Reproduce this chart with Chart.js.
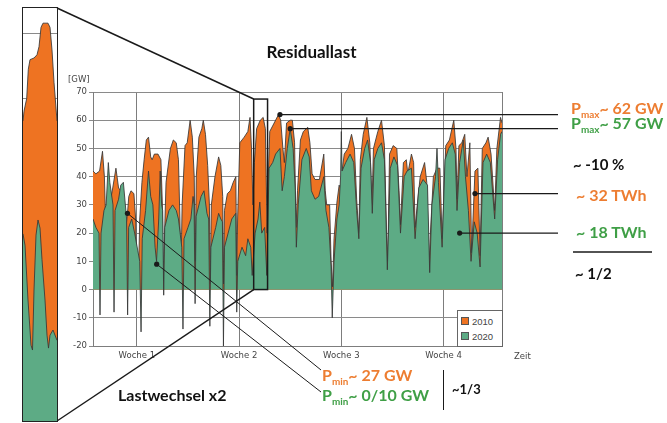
<!DOCTYPE html>
<html>
<head>
<meta charset="utf-8">
<title>Residuallast</title>
<script src="https://cdn.jsdelivr.net/npm/chart.js@4.4.1/dist/chart.umd.min.js"></script>
<style>
  html, body { margin: 0; padding: 0; background: #fff; }
  #page { position: relative; width: 667px; height: 423px; overflow: hidden; }
  #main { position: absolute; left: 0; top: 0; }
  #zoom { position: absolute; left: 23px; top: 8px; }
  #zoomFrame { position: absolute; left: 22px; top: 7px; width: 36px; height: 415px; box-sizing: border-box; border: 1.5px solid #222; }
  .note { position: absolute; white-space: nowrap; line-height: 1; font-family: Lato, "Open Sans", sans-serif; font-weight: bold; }
  .note sub { font-size: 62%; vertical-align: baseline; position: relative; top: 0.35em; }
  #legend { position: absolute; left: 457px; top: 310px; width: 46px; height: 37px; box-sizing: border-box;
            border: 1px solid #666; background: #fff; font: 9.5px "Liberation Sans", sans-serif; color: #444; }
  #legend div { position: absolute; left: 3px; white-space: nowrap; }
  #legend span { display: inline-block; width: 6px; height: 6px; border: 1px solid #555; margin-right: 3px; vertical-align: 0; }
</style>
</head>
<body>
<div id="page">
  <canvas id="main" width="667" height="423"></canvas>
  <canvas id="zoom" width="34" height="413"></canvas>
  <div id="zoomFrame"></div>
  <div id="legend"></div>
</div>

<script>
  // Residuallast 2010 (orange), Tag / GW
  const days2010 = [0,0.2,0.45,0.65,0.78,0.88,0.95,1.05,1.15,1.35,
    1.57,1.75,1.9,2.03,2.1,2.17,2.36,2.45,2.6,2.8,
    2.92,3.0,3.1,3.2,3.35,3.5,3.65,3.8,3.95,4.05,
    4.2,4.45,4.65,4.75,4.82,4.9,5.0,5.1,5.3,5.5,
    5.7,5.85,5.95,6.02,6.1,6.3,6.45,6.65,6.8,6.93,
    7.0,7.07,7.25,7.45,7.55,7.7,7.85,7.97,8.03,8.1,
    8.35,8.6,8.75,8.88,8.94,9.0,9.2,9.4,9.6,9.78,
    9.84,9.9,10.05,10.35,10.6,10.75,10.85,10.95,11.05,11.2,
    11.45,11.65,11.8,11.92,12,12.1,12.4,12.7,12.85,13,
    13.1,13.25,13.5,13.65,13.8,13.9,14,14.2,14.4,14.7,
    14.85,15,15.2,15.5,15.8,15.9,16,16.2,16.3,16.4,
    16.5,16.7,16.85,16.95,17.05,17.2,17.45,17.7,17.9,18.05,
    18.2,18.3,18.5,18.75,18.95,19.1,19.2,19.5,19.75,19.95,
    20.1,20.18,20.3,20.55,20.8,20.95,21.05,21.25,21.45,21.55,
    21.8,21.95,22.05,22.2,22.4,22.7,22.85,23,23.1,23.3,
    23.55,23.75,23.9,24,24.15,24.4,24.7,24.85,24.92,25.05,
    25.25,25.45,25.6,25.8,25.92,26.15,26.35,26.5,26.65,26.9,
    27.05,27.25,27.5,27.65,27.9,28];
  const gw2010 = [42,41,42,49,40,22,8,20,30,36,
    43,36,35,22,5,18,27,33,35,34,
    25,3,2,25,38,46,53,54,47,46,
    48,48,46,30,3,20,38,42,50,53,
    52,46,25,5,30,51,52,60,54,40,
    10,40,54,57,60,55,44,30,2,30,
    40,47,44,33,2,28,34,35,38,40,
    5,25,52,54,56,61,50,30,45,57,
    60,61,57,20,40,56,59,62,60,50,
    45,59,60,60,52,22,35,53,56,57.5,
    52,41,39,39,48,35,30,30,10,1,
    18,31,37,36,42,48,50,55,50,32,
    20,46,55,61,52,30,50,56,60,51,
    20,10,48,51,50,35,23,45,46,41,
    48,45,22,30,40,45,38,8,20,40,
    43,43,18,30,51,53,60,50,32,51,
    52,55,40,52,13,42,43,12,50,52,
    54,48,28,50,61,59];

  // Residuallast 2020 (green)
  const days2020 = [0,0.2,0.41,0.48,0.55,0.75,0.9,1.05,1.15,1.37,
    1.44,1.51,1.75,1.9,2.08,2.3,2.37,2.44,2.65,2.85,
    3.2,3.29,3.37,3.6,3.8,3.95,4.1,4.25,4.35,4.5,
    4.6,4.7,4.77,4.84,4.91,5.2,5.45,5.7,5.85,6.08,
    6.16,6.23,6.5,6.7,6.85,6.92,6.99,7.06,7.4,7.6,
    7.8,7.92,8.0,8.07,8.4,8.6,8.75,8.86,8.93,9.0,
    9.25,9.5,9.77,9.84,9.91,10.2,10.45,10.6,10.8,10.9,
    11.1,11.3,11.42,11.55,11.75,11.9,12.05,12.3,12.5,12.8,
    12.95,13.1,13.3,13.5,13.7,13.85,13.92,14.05,14.3,14.6,
    14.8,14.95,15.2,15.45,15.8,15.95,16.15,16.3,16.38,16.5,
    16.7,16.85,16.95,17,17.05,17.3,17.6,17.85,18.05,18.2,
    18.35,18.6,18.8,19,19.12,19.25,19.5,19.75,19.95,20.15,
    20.35,20.6,20.85,21.05,21.3,21.5,21.8,22.05,22.3,22.6,
    22.9,23.05,23.2,23.45,23.55,23.65,23.9,24.1,24.35,24.6,
    24.8,24.92,25.1,25.35,25.5,25.7,25.88,26.1,26.3,26.5,
    26.7,26.95,27.2,27.5,27.7,27.9,28];
  const gw2020 = [25,22,20,-9,20,28,30,45,38,30,
    -8,28,32,37,38,25,-9,22,25,20,
    10,-15,18,28,42,33,30,15,10,25,
    42,30,28,-2,22,28,30,28,25,15,
    -14,18,22,25,33,30,-5,26,33,35,
    27,25,-13,15,22,27,25,24,-20,15,
    20,25,27,-8,10,15,12,18,15,5,
    20,25,31,20,22,5,43,45,48,50,
    35,40,50,57,50,35,15,30,46,50,
    47,35,32,33,40,28,22,8,-10,10,
    25,30,40,56,42,45,48,45,28,18,
    43,50,53,45,27,46,50,52,46,7,
    43,47,44,20,40,42,43,18,36,39,
    37,6,30,40,50,38,15,46,50,52,
    48,28,45,53,40,28,10,24,20,8,
    45,48,45,25,46,55,56];

  // Ausschnitt (links, gestreckt): Position im Ausschnitt / GW
  const zoomPos2010 = [0,1,3.7,5.3,7,11,14,16,18,20,25,27,29,31,34];
  const zoomGw2010  = [33,36,40,49,52,52.5,53.5,56,62,63.3,63.3,62,55,45,33];
  const zoomPos2020 = [0,2,5,8,9.5,11,13,15,17,19,22,24,25.5,27,30,34];
  const zoomGw2020  = [-2,-5.5,-22.5,-36.5,-38,-19.4,-2.4,2.3,-0.2,-10,-22.5,-33.4,-37.4,-33.4,-31.8,-35];

  const seriesNames = ['2010', '2020'];
  const weekTicks  = [3, 10, 17, 24, 28];
  const weekLabels = ['Woche 1', 'Woche 2', 'Woche 3', 'Woche 4', ''];

  // Markierungen (Tag, GW)
  const pmax2010 = [12.8, 62];
  const pmax2020 = [13.5, 57];
  const energy2010 = [26.15, 34];
  const energy2020 = [25.1, 20];
  const pmin2010 = [2.36, 27];
  const pmin2020 = [4.36, 9];
  const zoomDays = [11.0, 11.95];
  const zoomTop = 67.5;

  const ORANGE = '#EE7322';
  const GREEN = '#5DAB85';
  const EDGE = 'rgba(55,55,55,0.85)';
  const TXT_OR = '#ED7D31';
  const TXT_GR = '#3F9F46';

  Chart.defaults.font.family = '"DejaVu Sans", sans-serif';
  Chart.defaults.font.size = 8.5;
  Chart.defaults.color = '#444';

  function points(xs, ys) { return xs.map((x, i) => ({ x: x, y: ys[i] })); }

  function line(ctx, x0, y0, x1, y1) {
    ctx.beginPath(); ctx.moveTo(x0, y0); ctx.lineTo(x1, y1); ctx.stroke();
  }
  function dot(ctx, x, y) {
    ctx.beginPath(); ctx.arc(x, y, 2.6, 0, Math.PI * 2); ctx.fill();
  }

  const overlay = {
    id: 'overlay',
    afterDraw(chart) {
      const ctx = chart.ctx;
      const xs = chart.scales.x, ys = chart.scales.y;
      const px = (p) => [xs.getPixelForValue(p[0]), ys.getPixelForValue(p[1])];
      ctx.save();
      ctx.strokeStyle = '#1a1a1a';
      ctx.fillStyle = '#1a1a1a';

      // Ausschnitt-Rahmen + Verbindungslinien zum Zoom links
      const bx0 = xs.getPixelForValue(zoomDays[0]);
      const bx1 = xs.getPixelForValue(zoomDays[1]);
      const by0 = ys.getPixelForValue(zoomTop);
      const by1 = ys.getPixelForValue(0);
      ctx.lineWidth = 1.5;
      ctx.strokeRect(bx0, by0, bx1 - bx0, by1 - by0);
      line(ctx, 57, 8, bx0, by0);
      line(ctx, 57, 421, bx0, by1);

      // Pfeile nach rechts
      ctx.lineWidth = 1.3;
      [pmax2010, pmax2020, energy2010, energy2020].forEach(m => {
        const [mx, my] = px(m);
        line(ctx, mx, my, 558, my);
        dot(ctx, mx, my);
      });

      // Pmin Pfeile
      let [ax, ay] = px(pmin2010);
      ctx.lineWidth = 1;
      line(ctx, ax, ay, 321, 370);
      dot(ctx, ax, ay);
      [ax, ay] = px(pmin2020);
      line(ctx, ax, ay, 321, 392);
      dot(ctx, ax, ay);

      // Trennstrich und senkrechter Strich
      ctx.lineWidth = 1.5;
      line(ctx, 573, 252, 652, 252);
      ctx.lineWidth = 1;
      line(ctx, 443.5, 370, 443.5, 410);
      ctx.restore();
    }
  };

  new Chart(document.getElementById('main'), {
    type: 'line',
    data: {
      datasets: [
        { label: seriesNames[0], data: points(days2010, gw2010), fill: 'origin',
          backgroundColor: ORANGE, borderColor: EDGE, borderWidth: 1, pointRadius: 0, tension: 0, order: 2 },
        { label: seriesNames[1], data: points(days2020, gw2020), fill: 'origin',
          backgroundColor: GREEN, borderColor: EDGE, borderWidth: 1, pointRadius: 0, tension: 0, order: 1 }
      ]
    },
    options: {
      responsive: false,
      animation: false,
      layout: { padding: { left: 0, top: 92, right: 165, bottom: 0 } },
      plugins: { legend: { display: false }, tooltip: { enabled: false } },
      scales: {
        x: {
          type: 'linear', min: 0, max: 28,
          afterBuildTicks: (s) => { s.ticks = weekTicks.map(v => ({ value: v })); },
          afterFit: (s) => { s.height = 77; },
          ticks: { autoSkip: false, maxRotation: 0, padding: 5, callback: (v, i) => weekLabels[i] },
          grid: { color: '#7d7d7d', drawTicks: false },
          border: { color: '#7d7d7d' }
        },
        y: {
          min: -20, max: 70,
          afterFit: (s) => { s.width = 93; },
          ticks: { stepSize: 10, padding: 2 },
          grid: { color: '#8a8a8a', tickLength: 4 },
          border: { color: '#7d7d7d' }
        }
      }
    },
    plugins: [overlay]
  });

  // vergroesserter Tagesausschnitt
  new Chart(document.getElementById('zoom'), {
    type: 'line',
    data: {
      datasets: [
        { label: seriesNames[0], data: points(zoomPos2010, zoomGw2010), fill: 'start',
          backgroundColor: ORANGE, borderColor: EDGE, borderWidth: 1, pointRadius: 0, order: 2 },
        { label: seriesNames[1], data: points(zoomPos2020, zoomGw2020), fill: 'start',
          backgroundColor: GREEN, borderColor: EDGE, borderWidth: 1, pointRadius: 0, order: 1 }
      ]
    },
    options: {
      responsive: false,
      animation: false,
      layout: { padding: 0 },
      plugins: { legend: { display: false }, tooltip: { enabled: false } },
      scales: {
        x: { type: 'linear', display: false, min: 0, max: 34 },
        y: {
          min: -60, max: 68,
          afterBuildTicks: (s) => { s.ticks = [{ value: 40 }, { value: 60 }]; },
          afterFit: (s) => { s.width = 0; },
          ticks: { display: false },
          grid: { color: '#8a8a8a', drawTicks: false },
          border: { display: false }
        }
      }
    }
  });

  // Legende
  const legend = document.getElementById('legend');
  [ORANGE, GREEN].forEach((c, i) => {
    const row = document.createElement('div');
    row.style.top = (5 + i * 15) + 'px';
    row.innerHTML = '<span style="background:' + c + '"></span>' + seriesNames[i];
    legend.appendChild(row);
  });

  // Texte: x links, Grundlinie, Groesse
  const notes = [
    { html: 'Residuallast', x: 311.5, base: 58.5, size: 17, color: '#111', center: true },
    { html: 'Lastwechsel x2', x: 118, base: 401.5, size: 16, color: '#111' },
    { html: 'P<sub>max</sub>~ 62 GW', x: 571, base: 114.5, size: 16, color: TXT_OR },
    { html: 'P<sub>max</sub>~ 57 GW', x: 571, base: 129.5, size: 16, color: TXT_GR },
    { html: '~ -10 %', x: 573, base: 170, size: 15, color: '#111' },
    { html: '~ 32 TWh', x: 576, base: 201.5, size: 16, color: TXT_OR },
    { html: '~ 18 TWh', x: 576, base: 238.5, size: 16, color: TXT_GR },
    { html: '~ 1/2', x: 575, base: 279.5, size: 15, color: '#111' },
    { html: 'P<sub>min</sub>~ 27 GW', x: 322, base: 381.5, size: 16, color: TXT_OR },
    { html: 'P<sub>min</sub>~ 0/10 GW', x: 322, base: 401.5, size: 16, color: TXT_GR },
    { html: '~1/3', x: 452, base: 395, size: 13, color: '#111' },
    { html: '[GW]', x: 68, base: 82.5, size: 8.5, color: '#444', plain: true },
    { html: 'Zeit', x: 514, base: 359.5, size: 8.5, color: '#444', plain: true }
  ];
  const page = document.getElementById('page');
  notes.forEach(n => {
    const el = document.createElement('div');
    el.className = 'note';
    el.innerHTML = n.html;
    el.style.fontSize = n.size + 'px';
    el.style.color = n.color;
    if (n.plain) {
      el.style.fontFamily = '"DejaVu Sans", sans-serif';
      el.style.fontWeight = 'normal';
      el.style.top = (n.base - 0.846 * n.size) + 'px';
    } else {
      el.style.top = (n.base - 0.887 * n.size) + 'px';
    }
    el.style.left = n.x + 'px';
    if (n.center) el.style.transform = 'translateX(-50%)';
    page.appendChild(el);
  });
</script>
</body>
</html>
